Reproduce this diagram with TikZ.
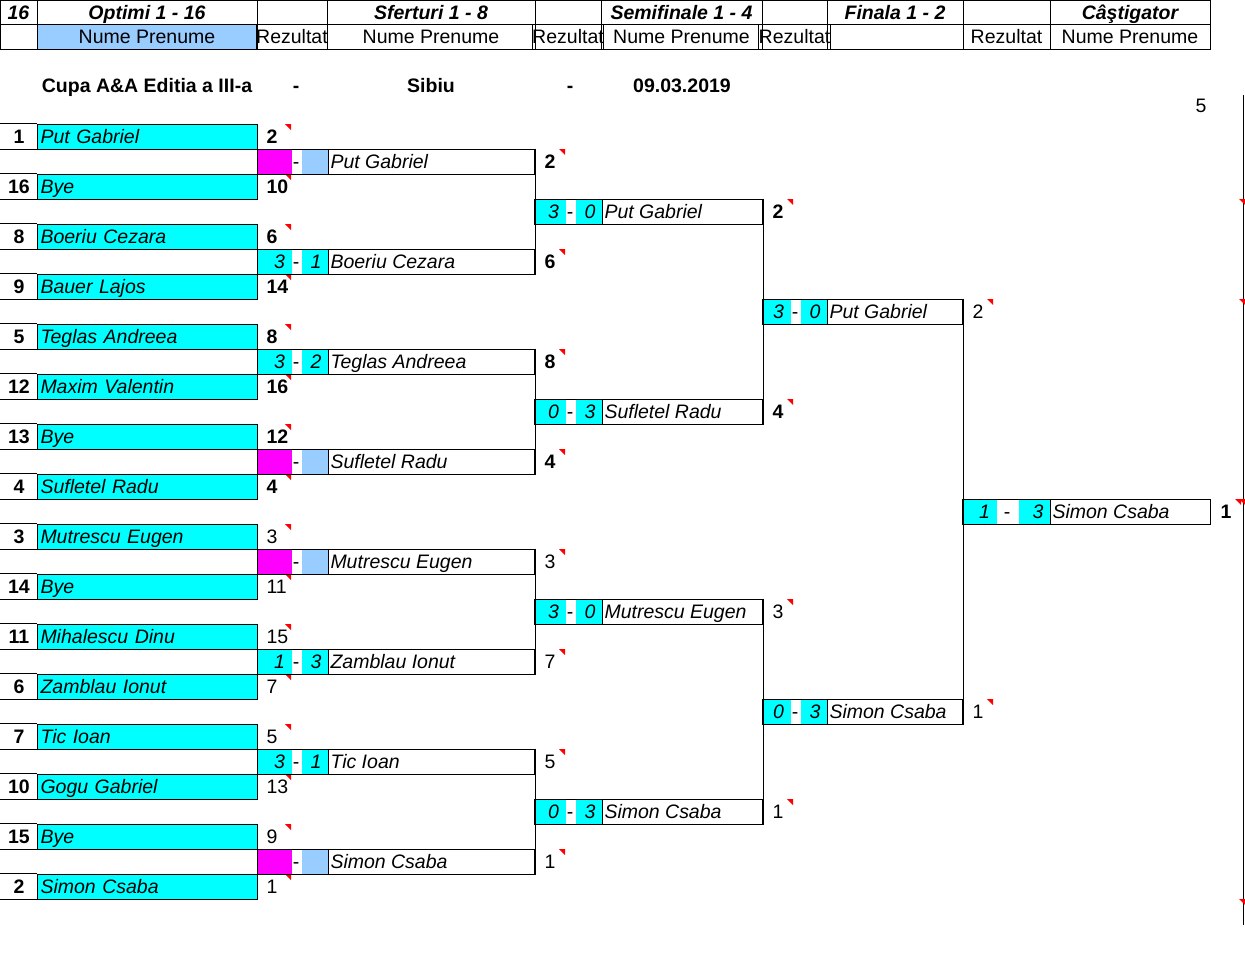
\documentclass[tikz,border=0pt]{standalone}
\usepackage{fontspec}
\setmainfont{Liberation Sans}
\usetikzlibrary{positioning}
\definecolor{pink}{HTML}{FF00FF}
\definecolor{lblue}{HTML}{99CCFF}
\definecolor{aqua}{HTML}{00FFFF}
\newcommand{\tick}[2]{\fill[red] ({#1-6},{#2}) -- ({#1},{#2}) -- ({#1},{#2+6}) -- cycle;}

\begin{document}
\begin{tikzpicture}[
		x=1pt, y=-1pt, line width=1pt,
		every node/.style={font=\fontsize{19.5}{21}\selectfont, text height=15pt, text depth=2pt},
		hdr/.style={draw, minimum height=24.5pt, inner sep=0pt, font=\fontsize{19.5}{21}\selectfont\bfseries\itshape},
		hdrn/.style={draw, minimum height=24.5pt, inner sep=0pt},
		hdrblue/.style={hdrn, fill=lblue},
		seed/.style={minimum width=37pt, minimum height=25pt, inner sep=0pt, anchor=west, font=\fontsize{19.5}{21}\selectfont\bfseries},
		player/.style={draw, fill=aqua, minimum height=25pt, text width=214pt, inner xsep=3pt, inner ysep=0pt, align=left, anchor=west, font=\fontsize{19.5}{21}\selectfont\itshape},
		box/.style={draw, minimum height=25pt, inner sep=0pt, anchor=west},
		sc/.style={minimum height=24pt, inner ysep=0pt, align=right, anchor=west, font=\fontsize{19.5}{21}\selectfont\itshape},
		pname/.style={anchor=west, inner sep=3pt, font=\fontsize{19.5}{21}\selectfont\itshape},
		num/.style={anchor=west, inner sep=0pt},
		numb/.style={num, font=\fontsize{19.5}{21}\selectfont\bfseries},
		title/.style={font=\fontsize{19.5}{21}\selectfont\bfseries},
	]
	\useasboundingbox (0,0) rectangle (1245,970);

	% header
	\foreach \xa/\xb/\txt [count=\i] in {0/37/16, 37/257/Optimi 1 - 16, 257/327/\relax, 327/535/Sferturi 1 - 8, 535/601/\relax, 601/762/Semifinale 1 - 4, 762/827/\relax, 827/963/Finala 1 - 2, 963/1050/\relax, 1050/1210/Câştigator}{
		\pgfmathsetmacro\ww{\xb-\xa}
		\node[hdr, minimum width=\ww pt] (ha\i) at ({(\xa+\xb)/2},12.5) {\txt};
	}
	\foreach \xa/\xb/\txt/\sty [count=\i] in {0/37/\relax/hdrn, 37/257/Nume Prenume/hdrblue, 257/327/Rezultat/hdrn, 327/535/Nume Prenume/hdrn, 535/601/Rezultat/hdrn, 601/762/Nume Prenume/hdrn, 762/827/Rezultat/hdrn, 827/963/\relax/hdrn, 963/1050/Rezultat/hdrn, 1050/1210/Nume Prenume/hdrn}{
		\pgfmathsetmacro\ww{\xb-\xa}
		\node[\sty, minimum width=\ww pt] (hb\i) at ({(\xa+\xb)/2},37) {\txt};
	}

	\node[title] (cup) at (147,86) {Cupa A\&A Editia a III-a};
	\node[title] (dash1) at (296,86) {-};
	\node[title] (city) at (431,86) {Sibiu};
	\node[title] (dash2) at (570,86) {-};
	\node[title] (date) at (682,86) {09.03.2019};
	\node (five) at (1201,106) {5};

	% first round
	\foreach \r/\sd/\nm/\val/\vs in {0/1/Put Gabriel/2/numb, 2/16/Bye/10/numb, 4/8/Boeriu Cezara/6/numb, 6/9/Bauer Lajos/14/numb, 8/5/Teglas Andreea/8/numb, 10/12/Maxim Valentin/16/numb, 12/13/Bye/12/numb, 14/4/Sufletel Radu/4/numb, 16/3/Mutrescu Eugen/3/num, 18/14/Bye/11/num, 20/11/Mihalescu Dinu/15/num, 22/6/Zamblau Ionut/7/num, 24/7/Tic Ioan/5/num, 26/10/Gogu Gabriel/13/num, 28/15/Bye/9/num, 30/2/Simon Csaba/1/num}{
		\pgfmathsetmacro\yy{136.5+25*\r}
		\node[seed] (s\r) at (0,\yy) {\sd};
		\node[player] (p\r) at (37,\yy) {\nm};
		\node[\vs] (v\r) at (266,\yy) {\val};
		\draw (s\r.north west) -- (p\r.north west) (s\r.south west) -- (p\r.south west);
		\tick{291}{\yy-12.5}
	}

	% later rounds
	\foreach \r/\xl/\xa/\xd/\xb/\xr/\fa/\sa/\fb/\sb/\nm/\val/\vs in {1/257/291/301/327/534/pink/\relax/lblue/\relax/Put Gabriel/2/numb, 5/257/291/301/327/534/aqua/3/aqua/1/Boeriu Cezara/6/numb, 9/257/291/301/327/534/aqua/3/aqua/2/Teglas Andreea/8/numb, 13/257/291/301/327/534/pink/\relax/lblue/\relax/Sufletel Radu/4/numb, 17/257/291/301/327/534/pink/\relax/lblue/\relax/Mutrescu Eugen/3/num, 21/257/291/301/327/534/aqua/1/aqua/3/Zamblau Ionut/7/num, 25/257/291/301/327/534/aqua/3/aqua/1/Tic Ioan/5/num, 29/257/291/301/327/534/pink/\relax/lblue/\relax/Simon Csaba/1/num, 3/534/565/575/601/762/aqua/3/aqua/0/Put Gabriel/2/numb, 11/534/565/575/601/762/aqua/0/aqua/3/Sufletel Radu/4/numb, 19/534/565/575/601/762/aqua/3/aqua/0/Mutrescu Eugen/3/num, 27/534/565/575/601/762/aqua/0/aqua/3/Simon Csaba/1/num, 7/762/790/800/826/962/aqua/3/aqua/0/Put Gabriel/2/num, 23/762/790/800/826/962/aqua/0/aqua/3/Simon Csaba/1/num, 15/962/996/1018/1049/1210/aqua/1/aqua/3/Simon Csaba/1/numb}{
		\pgfmathsetmacro\yy{136.5+25*\r}
		\pgfmathsetmacro\wm{\xr-\xl}
		\pgfmathsetmacro\wa{\xa-\xl-14}
		\pgfmathsetmacro\wb{\xb-\xd-12}
		\node[box, minimum width=\wm pt] (m\r) at (\xl,\yy) {};
		\node[sc, fill=\fa, text width=\wa pt, inner xsep=7pt] (ma\r) at (\xl+0.5,\yy) {\sa};
		\node[inner sep=0pt] (md\r) at ({(\xa+\xd)/2},\yy) {-};
		\node[sc, fill=\fb, text width=\wb pt, inner xsep=6pt] (mb\r) at (\xd,\yy) {\sb};
		\draw (mb\r.north east) -- (mb\r.south east);
		\node[pname] (mn\r) at (\xb,\yy) {\nm};
		\node[\vs] (mv\r) at (\xr+10,\yy) {\val};
		\tick{\xr+31}{\yy-12.5}
	}

	% bracket lines
	\foreach \ta/\tb in {1/5, 9/13, 17/21, 25/29, 3/11, 19/27, 7/23}
		\draw (m\ta.north east) -- (m\tb.south east);

	\draw (1243,95) -- (1243,925);
	\foreach \r in {3,7,15,31}{
		\tick{1245}{124+25*\r}
	}
\end{tikzpicture}
\end{document}
